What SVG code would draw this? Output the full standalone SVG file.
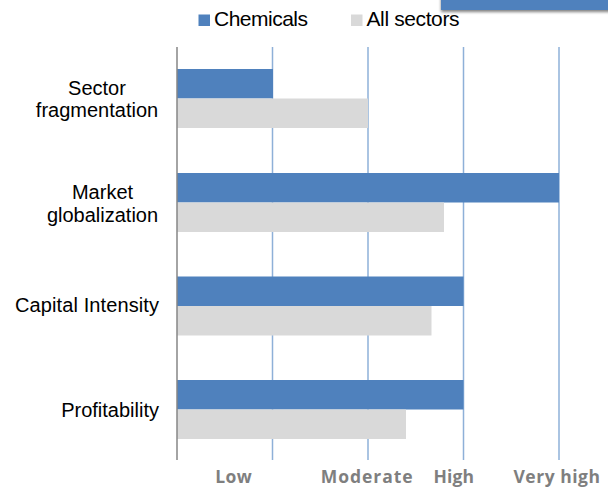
<svg xmlns="http://www.w3.org/2000/svg" width="608" height="488" viewBox="0 0 608 488">
<defs>
<style>
.lbl{font-family:"Liberation Sans",Arial,sans-serif;font-size:20px;fill:#000}
.leg{font-family:"Liberation Sans",Arial,sans-serif;font-size:21px;fill:#000}
.ax{font-family:"Open Sans",Lato,sans-serif;font-size:17.5px;font-weight:bold;fill:#7f7f7f;text-anchor:middle}
.grid{stroke:#8eb0d8;stroke-width:1.5}
.blue{fill:#4f81bd}
.gray{fill:#d9d9d9}
</style>
<filter id="sh" x="-10%" y="-50%" width="120%" height="250%">
<feGaussianBlur in="SourceAlpha" stdDeviation="1.5"/>
<feOffset dx="0" dy="2" result="b"/>
<feComponentTransfer><feFuncA type="linear" slope="0.5"/></feComponentTransfer>
<feMerge><feMergeNode/><feMergeNode in="SourceGraphic"/></feMerge>
</filter>
</defs>
<rect width="608" height="488" fill="#fff"/>
<rect x="441" y="-5" width="172" height="15" class="blue" filter="url(#sh)"/>
<g id="legend">
<rect x="198.5" y="14.5" width="11.5" height="11.5" class="blue"/>
<text x="214" y="26" class="leg" textLength="94">Chemicals</text>
<rect x="351" y="14.5" width="11.5" height="11.5" class="gray"/>
<text x="366.5" y="26" class="leg" textLength="93">All sectors</text>
</g>
<g id="grid">
<line x1="272.5" y1="47" x2="272.5" y2="460" class="grid"/>
<line x1="368" y1="47" x2="368" y2="460" class="grid"/>
<line x1="463.5" y1="47" x2="463.5" y2="460" class="grid"/>
<line x1="559" y1="47" x2="559" y2="460" class="grid"/>
</g>
<g id="bars">
<rect x="177" y="69" width="96" height="29.5" class="blue"/>
<rect x="177" y="98.5" width="191" height="29.5" class="gray"/>
<rect x="177" y="173" width="382" height="29.5" class="blue"/>
<rect x="177" y="202.5" width="267" height="29.5" class="gray"/>
<rect x="177" y="276.5" width="286.5" height="29.5" class="blue"/>
<rect x="177" y="306" width="254.5" height="29.5" class="gray"/>
<rect x="177" y="380" width="286.5" height="29.5" class="blue"/>
<rect x="177" y="409.5" width="229" height="29.5" class="gray"/>
</g>
<line x1="177" y1="47" x2="177" y2="460" stroke="#868686" stroke-width="1.5"/>
<g id="cat-labels">
<text class="lbl" text-anchor="middle"><tspan x="97" y="94.5">Sector</tspan><tspan x="97" y="117">fragmentation</tspan></text>
<text class="lbl" text-anchor="middle"><tspan x="102.5" y="198.5">Market</tspan><tspan x="102.5" y="221.7">globalization</tspan></text>
<text x="159" y="312.3" class="lbl" text-anchor="end" textLength="144">Capital Intensity</text>
<text x="159" y="416.7" class="lbl" text-anchor="end">Profitability</text>
</g>
<g id="axis-labels">
<text x="233.5" y="483" class="ax" textLength="36.5">Low</text>
<text x="366.7" y="483" class="ax" textLength="92">Moderate</text>
<text x="453.7" y="483" class="ax" textLength="40.5">High</text>
<text x="556.7" y="483" class="ax" textLength="86.5">Very high</text>
</g>
</svg>
